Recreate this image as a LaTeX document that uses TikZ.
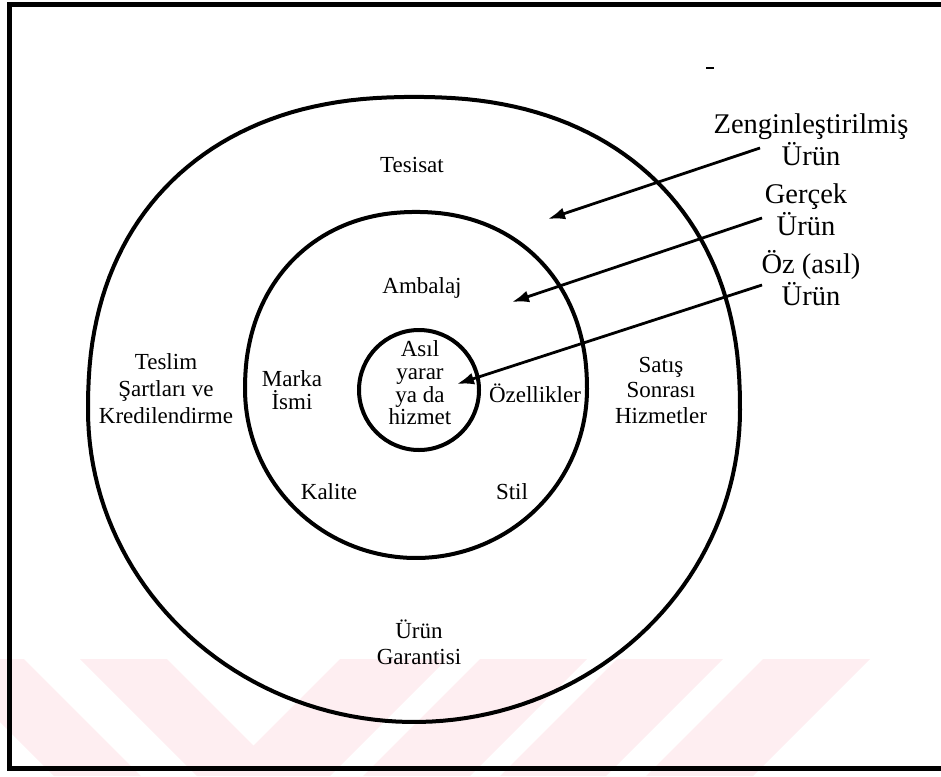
\documentclass[tikz,border=0pt]{standalone}
\usepackage{fontspec}
\setmainfont{Liberation Serif}
\usetikzlibrary{arrows.meta}
\definecolor{wm}{HTML}{FEEEF1}
\begin{document}
\begin{tikzpicture}[x=1pt,y=-1pt,
  ring/.style={draw, line width=4pt, line join=round},
  wmark/.style={fill=wm, draw=none},
  lbl/.style={font=\fontsize{23}{23}\selectfont, align=center, inner sep=0pt},
  big/.style={font=\fontsize{28.5}{32}\selectfont, align=center, inner sep=0pt},
  pointer/.style={line width=2.8pt, -{Latex[length=17pt,width=12pt]}}]
\useasboundingbox (0,0) rectangle (941,776);
% watermark
\fill[wmark] (-63,659) -- (24,659) -- (141,776) -- (54,776) -- cycle;
\fill[wmark] (80,659) -- (167,659) -- (284,776) -- (197,776) -- cycle;
\fill[wmark] (340,659) -- (447,659) -- (330,776) -- (223,776) -- cycle;
\fill[wmark] (480,659) -- (587,659) -- (470,776) -- (363,776) -- cycle;
\fill[wmark] (617,659) -- (723,659) -- (606,776) -- (500,776) -- cycle;
\fill[wmark] (763,659) -- (870,659) -- (753,776) -- (646,776) -- cycle;
% frame
\draw[line width=5pt] (9.5,5) rectangle (946,768);
% outer ring
\draw[ring] plot[domain=0:180, samples=90, variable=\t]
   ({414+326*sign(cos(\t))*(abs(cos(\t))+0.00001)^0.88}, {410-313*(abs(sin(\t))+0.00001)^0.88})
   -- plot[domain=180:360, samples=90, variable=\t] ({414+326*cos(\t)}, {410-312*sin(\t)}) -- cycle;
% middle ring
\draw[ring] plot[domain=0:180, samples=90, variable=\t]
   ({416+171*sign(cos(\t))*(abs(cos(\t))+0.00001)^0.93}, {389-177*(abs(sin(\t))+0.00001)^0.93})
   -- plot[domain=180:360, samples=90, variable=\t] ({416+171*cos(\t)}, {389-169*sin(\t)}) -- cycle;
% inner ring
\node[ring, circle, minimum size=120pt, inner sep=0pt] (inner) at (419,390) {};
% labels
\node[lbl] (tesisat) at (412,165) {Tesisat};
\node[lbl] (ambalaj) at (422,287.5) {Ambalaj};
\node[lbl, font=\fontsize{23}{22.7}\selectfont] (asil) at (420,383) {Asıl\\yarar\\ya da\\hizmet};
\node[lbl] (marka) at (292,390.5) {Marka\\İsmi};
\node[lbl] (ozellik) at (535,393) {Özellikler};
\node[lbl, font=\fontsize{23}{27}\selectfont] (teslim) at (166,389) {Teslim\\Şartları ve\\Kredilendirme};
\node[lbl, font=\fontsize{23}{25.5}\selectfont] (satis) at (661,390) {Satış\\Sonrası\\Hizmetler};
\node[lbl] (kalite) at (329,492) {Kalite};
\node[lbl] (stil) at (512,492) {Stil};
\node[lbl, font=\fontsize{23}{26}\selectfont] (garanti) at (419,642) {Ürün\\Garantisi};
% right-hand labels
\node[big] (zengin) at (811,140) {Zenginleştirilmiş\\Ürün};
\node[big] (gercek) at (806,210) {Gerçek\\Ürün};
\node[big] (oz) at (811,278) {Öz (asıl)\\Ürün};
% arrows
\coordinate (zs) at (760,148);
\coordinate (gs) at (762,218);
\coordinate (os) at (762,285);
\coordinate (zt) at (548,219);
\coordinate (gt) at (512,302);
\coordinate (ot) at (457,384);
\draw[pointer] (zs) -- (zt);
\draw[pointer] (gs) -- (gt);
\draw[pointer] (os) -- (ot);
% small mark
\draw[line width=1.5pt] (706,68) -- (714,68);
\end{tikzpicture}
\end{document}
